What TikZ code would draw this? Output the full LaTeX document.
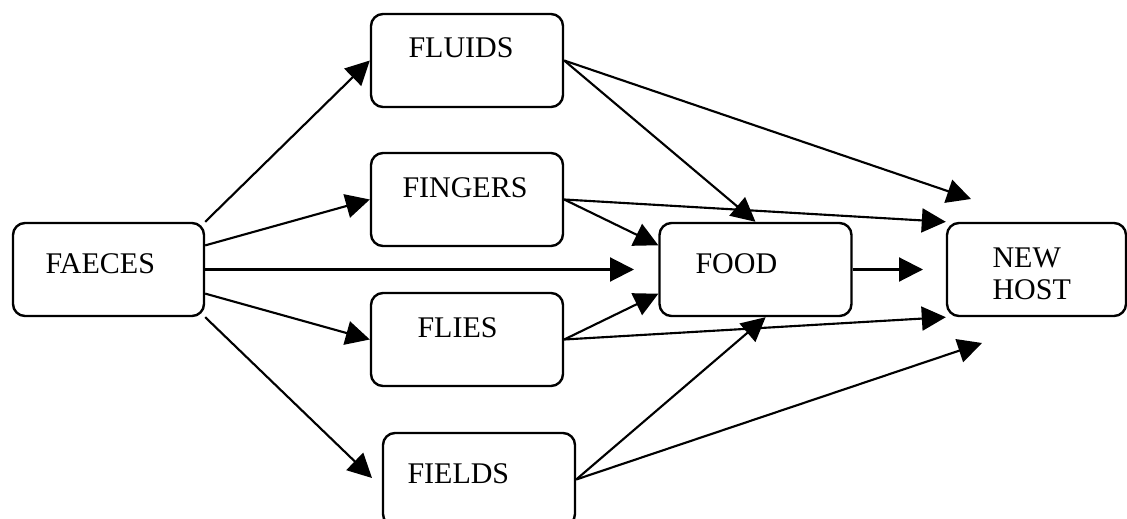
\documentclass[tikz,border=0pt]{standalone}
\usepackage{fontspec}
\setmainfont{Liberation Serif}
\usetikzlibrary{arrows.meta}
\newcommand{\mkbox}[5][]{\node[stagebox,#1] (#2) at (#3) {} ; \node[boxlabel] (#2-text) at (#4) {#5} ;}
\tikzset{
    stagebox/.style={
        draw,
        rounded corners=4.8pt,
        minimum width=76.8pt,
        minimum height=37.2pt,
        line width=0.95pt,
        inner sep=0,
    },
    boxlabel/.style={
        anchor=base west,
        inner sep=0,
        align=left,
        font=\fontsize{12}{12.8}\selectfont,
    },
    flow/.style={
        -{Triangle[length=9.6pt,width=9.6pt]},
        line width=0.85pt,
    },
}
\begin{document}
\begin{tikzpicture}[x=0.4pt,y=-0.4pt]
            \useasboundingbox (0,0) rectangle (1127,519);
            \clip (0,0) rectangle (1127,519);

            \mkbox[minimum width=76.4pt]{faeces}{108.5,269.5}{45,273}{FAECES}
            \mkbox{fluids}{467,60.5}{408,58}{FLUIDS}
            \mkbox{fingers}{467,199.5}{402,198}{FINGERS}
            \mkbox{flies}{467,339.5}{417,337}{FLIES}
            \mkbox{fields}{479,479.5}{407,483}{FIELDS}
            \mkbox{food}{755.5,269.5}{695,273}{FOOD}
            \mkbox[minimum width=71.6pt]{newhost}{1036.5,269.5}{992,299}{NEW\\HOST}

            \coordinate (foodin) at (634,269.5);
            \coordinate (fieldsin) at (372,478);
            \coordinate (hostin) at (923,269.5);
            \coordinate (hosttop) at (971,199);
            \coordinate (hostlow) at (982,343);

            \draw[flow] (faeces.north east) -- (fluids.west);
            \draw[flow] (faeces.14) -- (fingers.west);
            \draw[flow] (faeces.east) -- (foodin);
            \draw[flow] (faeces.-14) -- (flies.west);
            \draw[flow] (faeces.south east) -- (fieldsin);

            \draw[flow] (fluids.east) -- (food.north);
            \draw[flow] (fluids.east) -- (hosttop);
            \draw[flow] (fingers.east) -- (food.166);
            \draw[flow] (fingers.east) -- (newhost.north west);
            \draw[flow] (flies.east) -- (food.194);
            \draw[flow] (flies.east) -- (newhost.south west);
            \draw[flow] (fields.east) -- (food.-78);
            \draw[flow] (fields.east) -- (hostlow);
            \draw[flow] (food.east) -- (hostin);
        \end{tikzpicture}
\end{document}
